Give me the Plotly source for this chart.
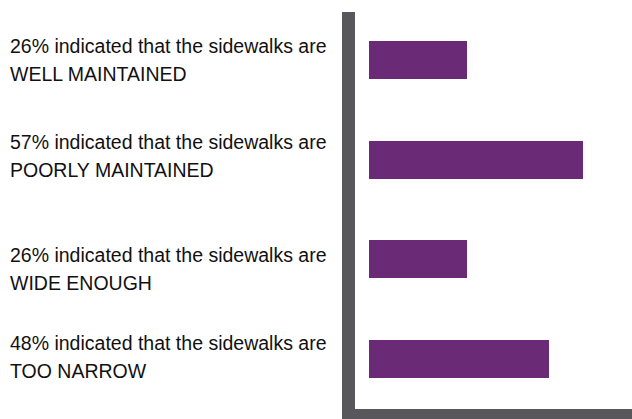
import plotly.graph_objects as go

# Survey results: share of respondents per sidewalk statement
categories = ["WELL MAINTAINED", "POORLY MAINTAINED", "WIDE ENOUGH", "TOO NARROW"]
percentages = [26, 57, 26, 48]

W, H = 632, 419
PLOT_L, PLOT_R = 355, 632      # plot area left/right edge (px)
PLOT_T, PLOT_B = 10, 409       # plot area top/bottom edge (px)
pw, ph = PLOT_R - PLOT_L, PLOT_B - PLOT_T

AXIS_COLOR = "#58575c"
BAR_COLOR = "#6b2a76"
TEXT_COLOR = "#111111"
FONT = "Liberation Sans, Arial, sans-serif"


def px_x(x):
    return (x - PLOT_L) / pw


def px_y(y):
    return (PLOT_B - y) / ph


fig = go.Figure(
    go.Bar(
        x=percentages,
        y=categories,
        orientation="h",
        width=0.38,
        marker=dict(color=BAR_COLOR, line=dict(width=0)),
        hoverinfo="skip",
    )
)

# Heavy L-shaped frame on the left and bottom
fig.add_shape(type="rect", xref="paper", yref="paper",
              x0=px_x(342), x1=px_x(355), y0=px_y(419), y1=px_y(12),
              fillcolor=AXIS_COLOR, line=dict(width=0), layer="above")
fig.add_shape(type="rect", xref="paper", yref="paper",
              x0=px_x(342), x1=px_x(632), y0=px_y(419), y1=px_y(409),
              fillcolor=AXIS_COLOR, line=dict(width=0), layer="above")

# Two-line description beside each bar
first_line_y = [46.5, 142.5, 255, 343]
line_gap = 27.5
for cat, pct, ly in zip(categories, percentages, first_line_y):
    for text, yy in ((f"{pct}% indicated that the sidewalks are", ly),
                     (cat, ly + line_gap)):
        fig.add_annotation(
            text=text, xref="paper", yref="paper",
            x=px_x(8), y=px_y(yy), xanchor="left", yanchor="middle",
            showarrow=False, align="left",
            font=dict(family=FONT, size=19.5, color=TEXT_COLOR),
        )

scale = 3.754  # px per percentage point
fig.update_layout(
    width=W, height=H,
    margin=dict(l=PLOT_L, r=W - PLOT_R, t=PLOT_T, b=H - PLOT_B, pad=0),
    paper_bgcolor="white", plot_bgcolor="white",
    showlegend=False,
    xaxis=dict(range=[-14 / scale, (PLOT_R - 369) / scale], visible=False,
               fixedrange=True),
    yaxis=dict(categoryorder="array", categoryarray=categories,
               range=[3.5, -0.5], visible=False, fixedrange=True),
    bargap=0,
)

fig.write_html("out.html", config={"displayModeBar": False})
